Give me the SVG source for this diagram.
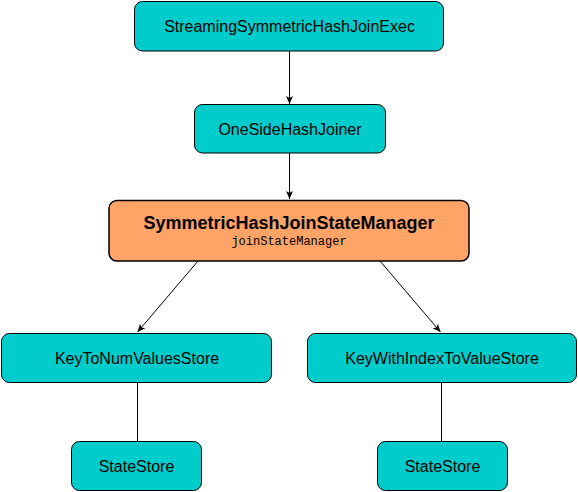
<svg xmlns="http://www.w3.org/2000/svg" width="578" height="492" viewBox="0 0 578 492">
<style>
.box{fill:#00CCCC;stroke:#000;stroke-width:1}
.mgr{fill:#FFA366;stroke:#000;stroke-width:1.5}
.lbl{font-family:"Liberation Sans",Arial,sans-serif;font-size:16px;fill:#000;text-anchor:middle;dominant-baseline:central}
.ttl{font-family:"Liberation Sans",Arial,sans-serif;font-size:18px;font-weight:bold;fill:#000;text-anchor:middle;dominant-baseline:central}
.mono{font-family:"Liberation Mono","Courier New",monospace;font-size:12px;fill:#000;text-anchor:middle;dominant-baseline:central}
.edge{stroke:#000;stroke-width:1;fill:none}
</style>
<defs>
<marker id="arr" markerWidth="10" markerHeight="10" refX="9" refY="5" orient="auto" markerUnits="userSpaceOnUse">
<path d="M1,1.5 L9,5 L1,8.5 L3,5 Z" fill="#000"/>
</marker>
</defs>
<g id="connectors">
<line class="edge" x1="289.5" y1="51" x2="289.5" y2="104" marker-end="url(#arr)"/>
<line class="edge" x1="289.5" y1="153" x2="289.5" y2="199" marker-end="url(#arr)"/>
<line class="edge" x1="198" y1="261" x2="137.5" y2="332" marker-end="url(#arr)"/>
<line class="edge" x1="380" y1="261" x2="440.5" y2="332" marker-end="url(#arr)"/>
<line class="edge" x1="137.5" y1="383" x2="137.5" y2="441"/>
<line class="edge" x1="441.5" y1="383" x2="441.5" y2="441"/>
</g>
<g id="n-exec">
<rect class="box" x="134.5" y="1.5" width="309" height="49.5" rx="8"/>
<text class="lbl" x="289.5" y="26.5">StreamingSymmetricHashJoinExec</text>
</g>
<g id="n-joiner">
<rect class="box" x="194.5" y="104.5" width="191" height="48.5" rx="8"/>
<text class="lbl" x="290" y="129">OneSideHashJoiner</text>
</g>
<g id="n-manager">
<rect class="mgr" x="109" y="200.5" width="360" height="60.5" rx="8"/>
<text class="ttl" x="289" y="223">SymmetricHashJoinStateManager</text>
<text class="mono" x="289" y="242">joinStateManager</text>
</g>
<g id="n-keytonum">
<rect class="box" x="1.5" y="333.5" width="270" height="49" rx="8"/>
<text class="lbl" x="137" y="358">KeyToNumValuesStore</text>
</g>
<g id="n-keywithindex">
<rect class="box" x="307.5" y="333.5" width="269" height="49" rx="8"/>
<text class="lbl" x="442" y="358">KeyWithIndexToValueStore</text>
</g>
<g id="n-store1">
<rect class="box" x="71.5" y="441.5" width="130" height="49" rx="8"/>
<text class="lbl" x="136.5" y="466">StateStore</text>
</g>
<g id="n-store2">
<rect class="box" x="377.5" y="441.5" width="130" height="49" rx="8"/>
<text class="lbl" x="442.5" y="466">StateStore</text>
</g>
</svg>
